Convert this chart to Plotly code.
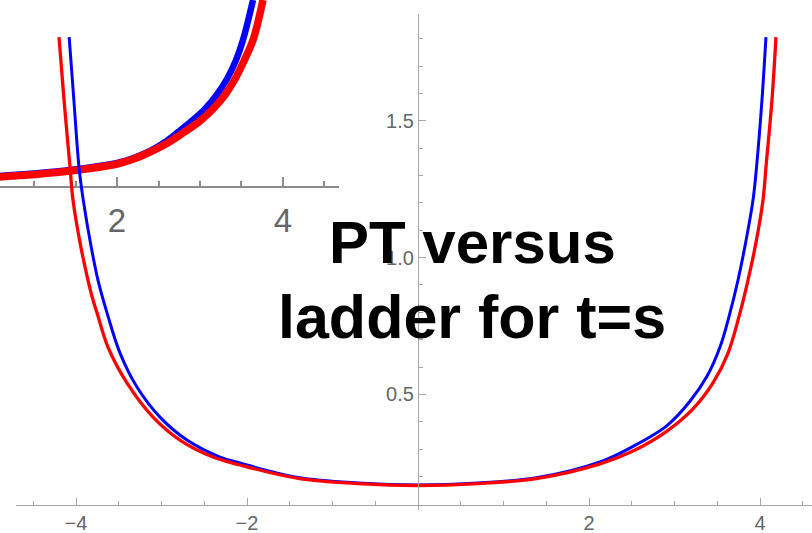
import plotly.graph_objects as go

# Main panel: ladder (blue) and PT (red) curves
ladder_x = [-4.08, -4.025, -3.965, -3.915, -3.82, -3.743, -3.637, -3.485, -3.287, -3.018, -2.702,
            -2.316, -2.082, -1.4, -0.7, 0.0, 0.7, 1.4, 2.129, 2.515, 2.912, 3.181, 3.38, 3.532,
            3.649, 3.743, 3.82, 3.918, 3.965, 4.023, 4.07]
ladder_y = [1.806, 1.576, 1.331, 1.21, 1.035, 0.918, 0.798, 0.651, 0.527, 0.417, 0.333,
            0.271, 0.249, 0.196, 0.176, 0.169, 0.176, 0.196, 0.253, 0.31, 0.386, 0.475, 0.566, 0.673,
            0.798, 0.918, 1.035, 1.21, 1.35, 1.576, 1.806]

pt_x = [-4.199, -4.14, -4.07, -4.035, -3.95, -3.86, -3.801, -3.754, -3.626, -3.404, -3.099, -2.784,
        -2.398, -2.082, -1.4, -0.7, 0.0, 0.7, 1.4, 2.129, 2.515, 2.912, 3.216, 3.45, 3.626, 3.766,
        3.86, 3.95, 4.035, 4.07, 4.14, 4.187]
pt_y = [1.806, 1.576, 1.331, 1.21, 1.05, 0.918, 0.845, 0.798, 0.673, 0.542, 0.417, 0.333,
        0.271, 0.242, 0.193, 0.174, 0.167, 0.174, 0.193, 0.246, 0.293, 0.366, 0.447, 0.542, 0.651, 0.798,
        0.918, 1.05, 1.21, 1.331, 1.576, 1.806]

# Inset panel curves
inset_ladder_x = [0.45, 0.59, 1.0, 1.434, 2.0, 2.2, 2.398, 2.58, 2.735, 2.9, 3.06, 3.2, 3.325,
                  3.43, 3.518, 3.639]
inset_ladder_y = [0.20, 0.22, 0.27, 0.34, 0.48, 0.58, 0.72, 0.90, 1.10, 1.32, 1.56, 1.84, 2.16,
                  2.52, 2.94, 3.74]
inset_pt_x = [0.45, 0.59, 1.0, 1.434, 2.0, 2.2, 2.398, 2.6, 2.795, 3.0, 3.157, 3.3, 3.422,
              3.53, 3.639, 3.759]
inset_pt_y = [0.18, 0.20, 0.25, 0.32, 0.46, 0.56, 0.70, 0.87, 1.08, 1.32, 1.56, 1.84, 2.16,
              2.52, 2.94, 3.74]

# Tick labels
main_x_ticks = [-4, -2, 2, 4]
main_x_labels = ["\u22124", "\u22122", "2", "4"]
main_x_minor = [-4.5, -3.5, -3, -2.5, -1.5, -1, -0.5, 0.5, 1, 1.5, 2.5, 3, 3.5, 4.5]
main_y_ticks = [0.5, 1.0, 1.5]
main_y_labels = ["0.5", "1.0", "1.5"]
main_y_minor = [0.2, 0.3, 0.4, 0.6, 0.7, 0.8, 0.9, 1.1, 1.2, 1.3, 1.4, 1.6, 1.7, 1.8]
inset_x_ticks = [2, 4]
inset_x_labels = ["2", "4"]
inset_x_minor = [1, 1.5, 2.5, 3, 3.5, 4.5]

W, H = 812, 533
FONT = "Liberation Sans, Arial, Helvetica, sans-serif"
AXIS_GRAY = "#a6a6a6"
LABEL_GRAY = "#666666"

fig = go.Figure()

# inset first so the main curves sit above it
fig.add_trace(go.Scatter(x=inset_ladder_x, y=inset_ladder_y, mode="lines", xaxis="x", yaxis="y",
                         line=dict(color="#0000ff", width=6.5, shape="spline", smoothing=1.0),
                         showlegend=False, hoverinfo="skip"))
fig.add_trace(go.Scatter(x=inset_pt_x, y=inset_pt_y, mode="lines", xaxis="x", yaxis="y",
                         line=dict(color="#ff0000", width=7.5, shape="spline", smoothing=1.0),
                         showlegend=False, hoverinfo="skip"))

fig.add_trace(go.Scatter(x=ladder_x, y=ladder_y, mode="lines", xaxis="x2", yaxis="y2",
                         line=dict(color="#0000ff", width=3, shape="spline", smoothing=1.0),
                         showlegend=False, name="ladder"))
fig.add_trace(go.Scatter(x=pt_x, y=pt_y, mode="lines", xaxis="x2", yaxis="y2",
                         line=dict(color="#ff0000", width=3.3, shape="spline", smoothing=1.0),
                         showlegend=False, name="PT"))

fig.update_layout(
    width=W, height=H,
    margin=dict(l=0, r=0, t=0, b=0),
    template="none",
    paper_bgcolor="white",
    plot_bgcolor="rgba(0,0,0,0)",
    font=dict(family=FONT),
    # inset axes
    xaxis=dict(domain=[0, 339 / W], range=[0.59, 4.675], anchor="free", position=(H - 187) / H,
               showline=True, linecolor="#8c8c8c", linewidth=1.6,
               ticks="inside", tickvals=inset_x_ticks, ticktext=inset_x_labels,
               ticklen=9, tickwidth=1.5, tickcolor="#8c8c8c",
               tickfont=dict(size=33, color=LABEL_GRAY, family=FONT),
               ticklabelstandoff=5,
               minor=dict(tickvals=inset_x_minor, ticks="inside", ticklen=5, tickwidth=1.5,
                          tickcolor="#8c8c8c"),
               showgrid=False, zeroline=False, automargin=False, fixedrange=True),
    yaxis=dict(domain=[(H - 200) / H, 1], range=[-0.26, 3.74], visible=False,
               showgrid=False, zeroline=False, automargin=False, fixedrange=True),
    # main axes
    xaxis2=dict(domain=[15.5 / W, 1], range=[-4.7076, 4.6082], anchor="free", position=(H - 505) / H,
                showline=True, linecolor=AXIS_GRAY, linewidth=1.2,
                ticks="inside", tickvals=main_x_ticks, ticktext=main_x_labels,
                ticklen=7, tickwidth=1, tickcolor=AXIS_GRAY,
                tickfont=dict(size=20, color=LABEL_GRAY, family=FONT),
                minor=dict(tickvals=main_x_minor, ticks="inside", ticklen=4, tickwidth=1,
                           tickcolor=AXIS_GRAY),
                showgrid=False, zeroline=False, automargin=False, fixedrange=True),
    yaxis2=dict(domain=[(H - 510) / H, (H - 13.6) / H], range=[0.07749, 1.8918],
                anchor="free", position=418 / W,
                showline=True, linecolor=AXIS_GRAY, linewidth=1.2,
                ticks="inside", tickvals=main_y_ticks, ticktext=main_y_labels,
                ticklen=7, tickwidth=1, tickcolor=AXIS_GRAY,
                tickfont=dict(size=20, color=LABEL_GRAY, family=FONT),
                minor=dict(tickvals=main_y_minor, ticks="inside", ticklen=4, tickwidth=1,
                           tickcolor=AXIS_GRAY),
                showgrid=False, zeroline=False, automargin=False, fixedrange=True),
    annotations=[
        dict(text="PT versus", xref="paper", yref="paper", x=472.5 / W, y=(H - 242) / H,
             xanchor="center", yanchor="middle", showarrow=False,
             font=dict(family=FONT, size=60, color="black", weight="bold")),
        dict(text="ladder for t=s", xref="paper", yref="paper", x=472 / W, y=(H - 317) / H,
             xanchor="center", yanchor="middle", showarrow=False,
             font=dict(family=FONT, size=61, color="black", weight="bold")),
    ],
)

fig.write_html("out.html")
